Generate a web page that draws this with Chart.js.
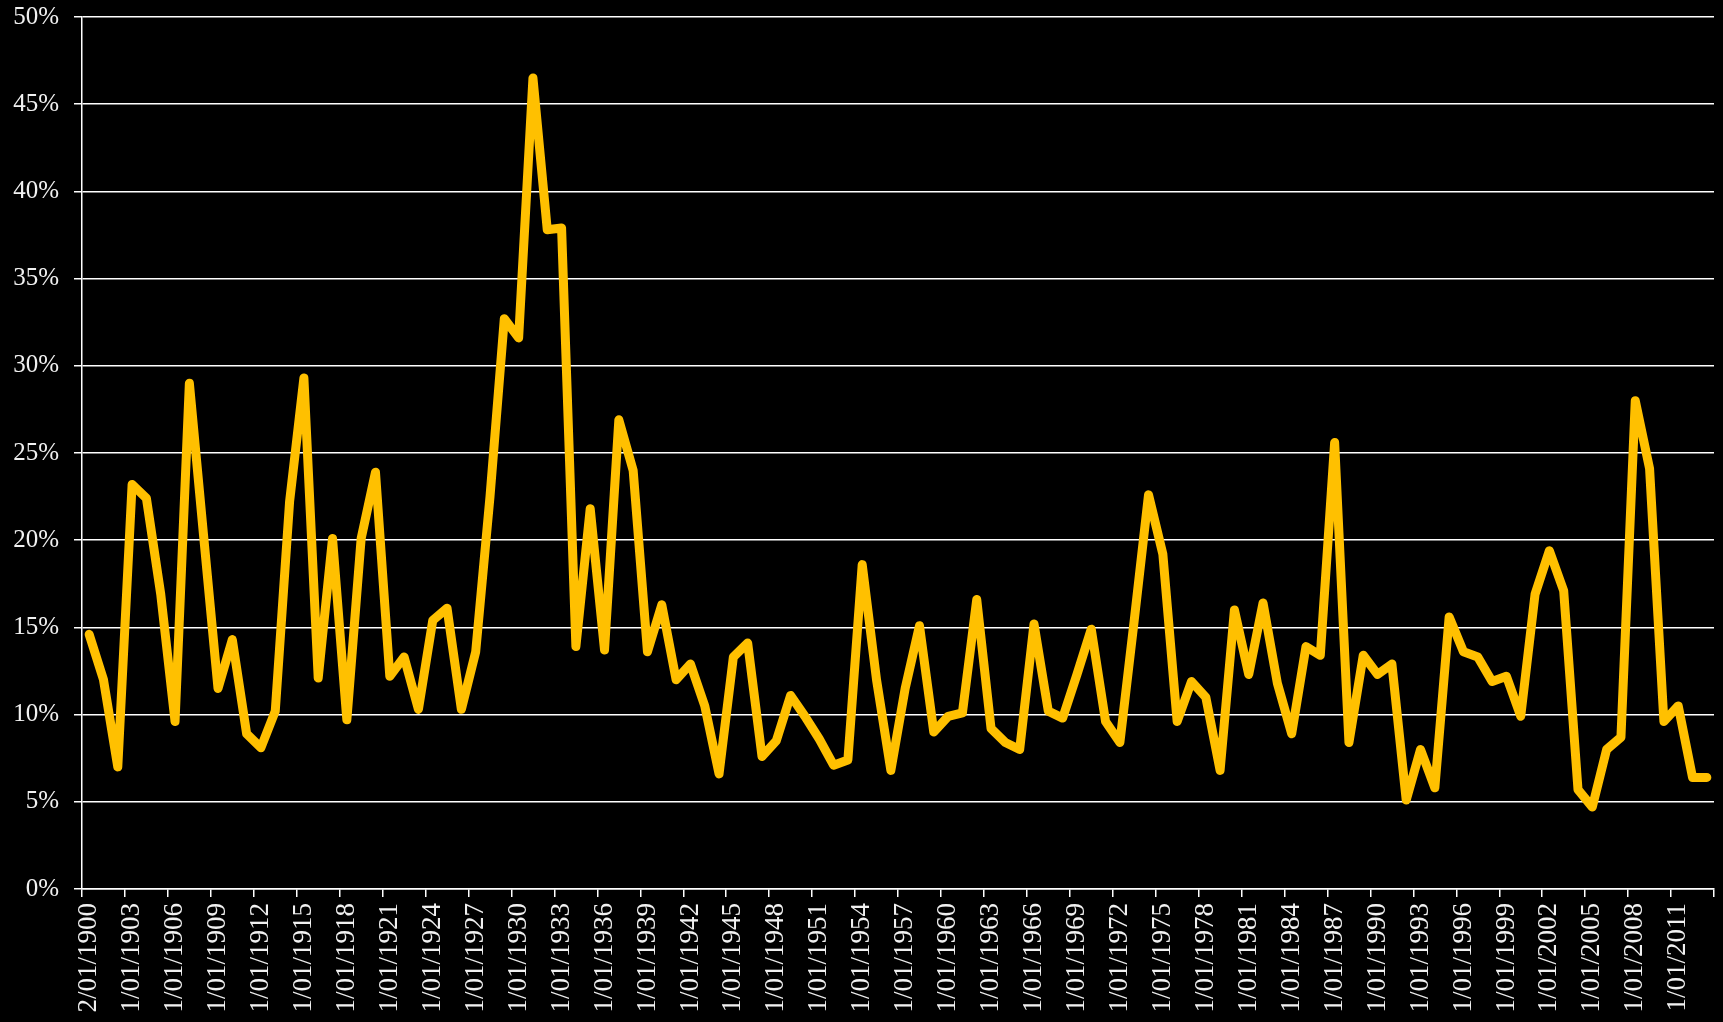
<!DOCTYPE html>
<html>
<head>
<meta charset="utf-8">
<title>Chart</title>
<script src="https://cdn.jsdelivr.net/npm/chart.js@4.4.1/dist/chart.umd.min.js"></script>
<style>
    html, body { margin: 0; padding: 0; background: #000; }
    #wrap { width: 1723px; height: 1022px; }
</style>
</head>
<body>
<div id="wrap"><canvas id="myChart" width="1723" height="1022"></canvas></div>
<script>
"use strict";

// one point per year, 1900 - 2013 (values in %)
var firstYear = 1900;
var lastYear = 2013;

var values = [
    14.6, 12.0, 7.0, 23.2, 22.4, 16.9, 9.6, 29.0, 20.2, 11.5,
    14.3, 8.9, 8.1, 10.2, 22.2, 29.3, 12.1, 20.1, 9.7, 20.1,
    23.9, 12.2, 13.3, 10.3, 15.4, 16.1, 10.3, 13.6, 22.5, 32.7,
    31.6, 46.5, 37.8, 37.9, 13.9, 21.8, 13.7, 26.9, 24.0, 13.6,
    16.3, 12.0, 12.9, 10.5, 6.6, 13.3, 14.1, 7.6, 8.5, 11.1,
    9.9, 8.6, 7.1, 7.4, 18.6, 12.0, 6.8, 11.5, 15.1, 9.0,
    9.9, 10.1, 16.6, 9.2, 8.4, 8.0, 15.2, 10.2, 9.8, 12.3,
    14.9, 9.6, 8.4, 15.4, 22.6, 19.2, 9.6, 11.9, 11.0, 6.8,
    16.0, 12.3, 16.4, 11.8, 8.9, 13.9, 13.4, 25.6, 8.4, 13.4,
    12.3, 12.9, 5.1, 8.0, 5.8, 15.6, 13.6, 13.3, 11.9, 12.2,
    9.9, 16.9, 19.4, 17.1, 5.7, 4.7, 8.0, 8.7, 28.0, 24.1,
    9.6, 10.5, 6.4, 6.4
];

var yTicks = [0, 5, 10, 15, 20, 25, 30, 35, 40, 45, 50];
var labelEvery = 3;

var labels = [];
for (var y = firstYear; y <= lastYear; y++) {
    // the source sheet shows the first date as 2/01/1900
    labels.push((y === firstYear ? '2' : '1') + '/01/' + y);
}

var white = '#ffffff';
var textColor = '#f0f0f0';
var gold = '#FFC000';
var serif = '"Liberation Serif", "Times New Roman", serif';

var $Chart = document.getElementById('myChart');

var lineChart = new Chart($Chart, {
    type: 'line',
    data: {
        labels: labels,
        datasets: [{
            data: values,
            borderColor: gold,
            backgroundColor: gold,
            borderWidth: 9,
            borderJoinStyle: 'round',
            borderCapStyle: 'round',
            pointRadius: 0,
            tension: 0,
            fill: false
        }]
    },
    options: {
        responsive: false,
        animation: false,
        events: [],
        layout: {
            padding: { top: 17, right: 9, bottom: 0, left: 0 }
        },
        plugins: {
            legend: { display: false },
            tooltip: { enabled: false }
        },
        scales: {
            x: {
                type: 'category',
                offset: true,
                grid: {
                    offset: true,
                    drawOnChartArea: false,
                    drawTicks: true,
                    tickLength: 8,
                    lineWidth: 1.5,
                    color: function (ctx) {
                        if (ctx.index === undefined || ctx.index % labelEvery === 0) return white;
                        return 'rgba(0,0,0,0)';
                    }
                },
                border: { display: true, color: white, width: 1.5 },
                ticks: {
                    autoSkip: false,
                    minRotation: 90,
                    maxRotation: 90,
                    padding: 6,
                    color: textColor,
                    font: { family: serif, size: 27 },
                    callback: function (val, index) {
                        return index % labelEvery === 0 ? this.getLabelForValue(val) : '';
                    }
                },
                afterFit: function (scale) {
                    scale.height = 133;
                    scale.paddingLeft = 0;
                    scale.paddingRight = 0;
                }
            },
            y: {
                min: yTicks[0],
                max: yTicks[yTicks.length - 1],
                afterBuildTicks: function (scale) {
                    scale.ticks = yTicks.map(function (v) { return { value: v }; });
                },
                grid: {
                    color: white,
                    lineWidth: 1.5,
                    tickLength: 8
                },
                border: { display: true, color: white, width: 1.5 },
                ticks: {
                    padding: 15,
                    color: textColor,
                    font: { family: serif, size: 25 },
                    callback: function (v) { return v + '%'; }
                },
                afterFit: function (scale) {
                    scale.width = 82;
                    scale.paddingTop = 0;
                    scale.paddingBottom = 0;
                }
            }
        }
    }
});
</script>
</body>
</html>
